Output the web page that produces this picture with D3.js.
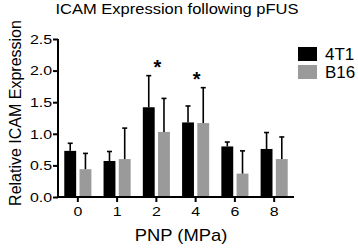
<!DOCTYPE html>
<html>
<head>
<meta charset="utf-8">
<script src="https://cdn.jsdelivr.net/npm/d3@7"></script>
<style>
  body { margin: 0; background: #fff; }
  text { font-family: "Liberation Sans", Arial, sans-serif; }
</style>
</head>
<body>
<div id="chart"></div>
<script>
const pressoes = ["0", "1", "2", "4", "6", "8"];
const series = ["4T1", "B16"];
const media4T1 = [0.73, 0.57, 1.42, 1.18, 0.80, 0.76];
const erro4T1 = [0.85, 0.72, 1.92, 1.44, 0.87, 1.02];
const mediaB16 = [0.44, 0.60, 1.03, 1.17, 0.37, 0.60];
const erroB16 = [0.69, 1.09, 1.56, 1.73, 0.73, 0.95];
const significativo = ["2", "4"];
const yTicks = [0, 0.5, 1.0, 1.5, 2.0, 2.5];

const cores = { "4T1": "#000000", "B16": "#9a9a9a" };
const esticar = 1.18; // a figura original está um pouco esticada na horizontal

const dados = pressoes.map((p, i) => ({
  pnp: p,
  valores: [
    { key: "4T1", media: media4T1[i], topo: erro4T1[i] },
    { key: "B16", media: mediaB16[i], topo: erroB16[i] }
  ]
}));

const width = 358, height = 248;
const margin = { top: 39, right: 64, bottom: 51, left: 58 };

const svg = d3.select("#chart").append("svg")
  .attr("width", width).attr("height", height);

const inner = svg.append("g").attr("transform", `translate(${margin.left},${margin.top})`);
const w = width - margin.left - margin.right;
const h = height - margin.top - margin.bottom;

const x0 = d3.scaleBand().domain(pressoes).range([0, w]).paddingInner(0.31).paddingOuter(0.16);
const x1 = d3.scaleBand().domain(series).range([0, x0.bandwidth()]).paddingInner(0.22);
const y = d3.scaleLinear().domain([0, 2.5]).range([h, 0]);

const grupos = inner.selectAll("g.grupo")
  .data(dados).join("g")
  .attr("class", "grupo")
  .attr("transform", d => `translate(${x0(d.pnp)},0)`);

// barras
grupos.selectAll("rect")
  .data(d => d.valores).join("rect")
  .attr("x", d => x1(d.key))
  .attr("y", d => y(d.media))
  .attr("width", x1.bandwidth())
  .attr("height", d => y(0) - y(d.media))
  .attr("fill", d => cores[d.key]);

// barras de erro (só para cima)
grupos.selectAll("line.erro")
  .data(d => d.valores).join("line")
  .attr("class", "erro")
  .attr("x1", d => x1(d.key) + x1.bandwidth() / 2)
  .attr("x2", d => x1(d.key) + x1.bandwidth() / 2)
  .attr("y1", d => y(d.media))
  .attr("y2", d => y(d.topo))
  .attr("stroke", "#000").attr("stroke-width", 1.6);

grupos.selectAll("line.cap")
  .data(d => d.valores).join("line")
  .attr("class", "cap")
  .attr("x1", d => x1(d.key) + x1.bandwidth() / 2 - 2.5)
  .attr("x2", d => x1(d.key) + x1.bandwidth() / 2 + 2.5)
  .attr("y1", d => y(d.topo))
  .attr("y2", d => y(d.topo))
  .attr("stroke", "#000").attr("stroke-width", 1.6);

// asteriscos
grupos.filter(d => significativo.includes(d.pnp))
  .append("text")
  .attr("x", x0.bandwidth() / 2 + 1)
  .attr("y", d => y(d3.max(d.valores, v => v.topo)) - 2)
  .attr("text-anchor", "middle")
  .style("font-size", "20px").style("font-weight", "bold")
  .text("*");

// eixos
const eixoX = inner.append("g")
  .attr("transform", `translate(0,${h})`)
  .call(d3.axisBottom(x0).tickSize(5).tickPadding(4));
const eixoY = inner.append("g")
  .call(d3.axisLeft(y).tickValues(yTicks).tickFormat(d3.format(".1f")).tickSize(5).tickPadding(0));

[eixoX, eixoY].forEach(e => {
  e.select(".domain").attr("stroke-width", 2);
  e.selectAll(".tick line").attr("stroke-width", 2);
  e.selectAll("text").style("font-size", "13.5px").attr("fill", "#000")
    .style("font-family", "'Liberation Sans', Arial, sans-serif")
    .attr("transform", `scale(${esticar},1)`);
});
eixoX.select(".domain").attr("d", `M0,0H${w}`);
eixoY.select(".domain").attr("d", `M0,${h + 1}V0`);

// legenda
const legenda = svg.append("g").attr("transform", "translate(298,47)");
series.forEach((s, i) => {
  legenda.append("rect")
    .attr("x", 0).attr("y", i * 18)
    .attr("width", 19).attr("height", 14)
    .attr("fill", cores[s]);
  legenda.append("text")
    .attr("transform", `translate(27,${i * 18 + 13}) scale(1.06,1)`)
    .style("font-size", "16px")
    .text(s);
});

// títulos
svg.append("text")
  .attr("transform", `translate(177,14) scale(${esticar},1)`)
  .attr("text-anchor", "middle")
  .style("font-size", "14px")
  .text("ICAM Expression following pFUS");

svg.append("text")
  .attr("transform", `translate(${margin.left + w / 2 + 5},241) scale(1.15,1)`)
  .attr("text-anchor", "middle")
  .style("font-size", "16px")
  .text("PNP (MPa)");

svg.append("text")
  .attr("transform", `translate(21,113) rotate(-90)`)
  .attr("text-anchor", "middle")
  .style("font-size", "16px")
  .text("Relative ICAM Expression");
</script>
</body>
</html>
